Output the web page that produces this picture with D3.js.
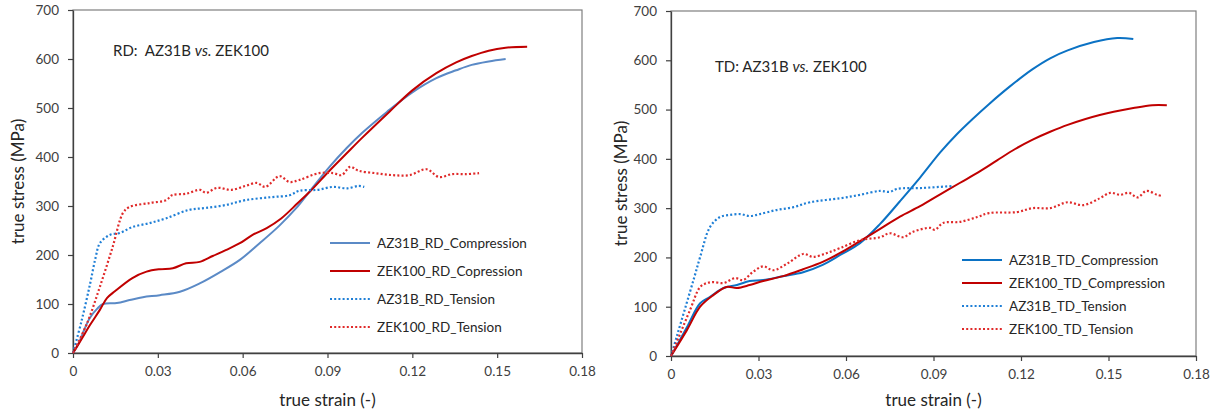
<!DOCTYPE html>
<html><head><meta charset="utf-8">
<script src="https://cdn.jsdelivr.net/npm/d3@7"></script>
<style>
body{margin:0;background:#fff;}
svg{display:block;font-family:Lato,"Open Sans",sans-serif;}
text{white-space:pre;}
</style></head>
<body><svg id="c" width="1217" height="414"></svg>
<script>
// ---------- DATA (strain, stress MPa) ----------
const xTicks = [0, 0.03, 0.06, 0.09, 0.12, 0.15, 0.18];
const yTicks = [0, 100, 200, 300, 400, 500, 600, 700];

const rdAzComp = [[0,0],[0.002,20],[0.004,48],[0.006,72],[0.0085,90],[0.0106,100],[0.0155,102],[0.02,108],[0.0247,114],[0.0307,118],[0.0378,125],[0.0448,142],[0.052,165],[0.059,190],[0.066,224],[0.073,260],[0.079,296],[0.0837,330],[0.0907,380],[0.0967,418],[0.1024,450],[0.111,492],[0.120,532],[0.1285,561],[0.1355,577],[0.141,588],[0.147,595],[0.153,600]];
const rdZekComp = [[0,0],[0.003,28],[0.006,57],[0.0095,88],[0.012,112],[0.0148,126],[0.021,153],[0.026,166],[0.0307,171],[0.0353,173],[0.040,183],[0.0448,186],[0.0494,198],[0.054,210],[0.059,224],[0.0635,241],[0.0685,255],[0.0735,274],[0.0795,306],[0.0837,329],[0.0907,372],[0.0967,407],[0.1024,440],[0.112,493],[0.120,536],[0.1285,571],[0.1355,593],[0.141,606],[0.147,617],[0.153,623],[0.1606,625]];
const rdAzTens = [[0,0],[0.003,65],[0.006,140],[0.008,195],[0.0095,224],[0.013,241],[0.0166,245],[0.021,257],[0.027,265],[0.033,275],[0.041,292],[0.047,296],[0.054,302],[0.061,312],[0.07,318],[0.0766,322],[0.080,331],[0.0865,333],[0.092,339],[0.097,336],[0.101,341],[0.103,339]];
const rdZekTens = [[0,0],[0.005,61],[0.0095,135],[0.014,216],[0.0177,286],[0.020,298],[0.027,306],[0.033,312],[0.035,322],[0.040,325],[0.045,333],[0.047,327],[0.051,337],[0.056,333],[0.061,341],[0.065,347],[0.068,339],[0.073,361],[0.0766,349],[0.080,353],[0.087,367],[0.092,367],[0.095,363],[0.098,380],[0.101,372],[0.107,367],[0.113,363],[0.119,363],[0.125,375],[0.1295,359],[0.134,365],[0.139,365],[0.1436,367]];

const tdAzComp = [[0,0],[0.0055,59],[0.010,107],[0.0134,120],[0.018,138],[0.0226,144],[0.027,152],[0.0316,154],[0.0384,162],[0.0453,170],[0.052,185],[0.058,205],[0.0648,229],[0.0717,268],[0.0785,314],[0.0854,362],[0.0923,413],[0.098,450],[0.1036,482],[0.109,511],[0.116,546],[0.124,582],[0.130,604],[0.136,620],[0.145,637],[0.153,645],[0.1585,643]];
const tdZekComp = [[0,0],[0.0055,53],[0.010,100],[0.0144,123],[0.019,140],[0.0226,138],[0.027,144],[0.0316,152],[0.0384,162],[0.0453,176],[0.052,191],[0.058,209],[0.0648,233],[0.0717,258],[0.0785,283],[0.0854,304],[0.0923,328],[0.099,351],[0.106,375],[0.1118,397],[0.118,420],[0.124,439],[0.130,455],[0.136,469],[0.147,489],[0.1585,503],[0.165,509],[0.170,509]];
const tdAzTens = [[0,0],[0.002,40],[0.005,100],[0.008,160],[0.010,201],[0.0134,262],[0.0168,282],[0.020,286],[0.0237,288],[0.027,284],[0.0305,288],[0.036,296],[0.042,302],[0.0477,312],[0.058,320],[0.0648,327],[0.0717,335],[0.075,333],[0.0775,339],[0.0864,341],[0.0967,345]];
const tdZekTens = [[0,0],[0.0065,93],[0.010,140],[0.0123,148],[0.0144,150],[0.018,148],[0.022,158],[0.0247,154],[0.028,170],[0.0316,182],[0.035,174],[0.040,188],[0.0453,207],[0.0487,201],[0.0535,209],[0.058,219],[0.0648,235],[0.0717,241],[0.075,249],[0.0796,241],[0.083,252],[0.0888,260],[0.0905,256],[0.0933,270],[0.099,272],[0.105,282],[0.109,290],[0.1186,292],[0.124,300],[0.130,300],[0.136,312],[0.1413,306],[0.147,320],[0.1506,331],[0.154,327],[0.157,331],[0.160,322],[0.163,335],[0.1667,327],[0.168,325]];

const rdNames = ["AZ31B_RD_Compression","ZEK100_RD_Copression","AZ31B_RD_Tension","ZEK100_RD_Tension"];
const tdNames = ["AZ31B_TD_Compression","ZEK100_TD_Compression","AZ31B_TD_Tension","ZEK100_TD_Tension"];

// ---------- DRAW ----------
const svg = d3.select("#c");
function panel(cfg){
  const x = d3.scaleLinear().domain([0,0.18]).range([cfg.x0,cfg.x1]);
  const y = d3.scaleLinear().domain([0,700]).range([cfg.y0,cfg.y1]);
  const g = svg.append("g");
  g.append("rect").attr("x",cfg.x0).attr("y",cfg.y1).attr("width",cfg.x1-cfg.x0).attr("height",cfg.y0-cfg.y1)
    .attr("fill","none").attr("stroke","#7f7f7f").attr("stroke-width",1.2);
  const xa = g.append("g").attr("transform",`translate(0,${cfg.y0})`)
    .call(d3.axisBottom(x).tickValues(xTicks).tickFormat(d=>d===0?"0":d3.format(".2f")(d)).tickSize(5).tickSizeOuter(0).tickPadding(8));
  const ya = g.append("g").attr("transform",`translate(${cfg.x0},0)`)
    .call(d3.axisLeft(y).tickValues(yTicks).tickSize(5).tickSizeOuter(0).tickPadding(9));
  [xa,ya].forEach(a=>{
    a.select(".domain").attr("stroke","#404040").attr("stroke-width",1.3);
    a.selectAll(".tick line").attr("stroke","#404040").attr("stroke-width",1.2);
    a.selectAll(".tick text").attr("fill","#404040").style("font-size","13.5px").style("font-family","Lato,sans-serif");
  });
  g.append("text").attr("x",(cfg.x0+cfg.x1)/2).attr("y",406).attr("text-anchor","middle")
    .attr("fill","#262626").style("font-size","17px").text("true strain (-)");
  g.append("text").attr("transform",`translate(${cfg.ytx},${(cfg.y0+cfg.y1)/2}) rotate(-90)`).attr("text-anchor","middle")
    .attr("fill","#262626").style("font-size","17px").text("true stress (MPa)");
  const t = g.append("text").attr("x",cfg.annX).attr("y",cfg.annY).attr("fill","#262626").style("font-size","15px");
  t.append("tspan").text(cfg.annPre);
  t.append("tspan").style("font-style","italic").text("vs.");
  t.append("tspan").text(" ZEK100");
  const line = d3.line().x(d=>x(d[0])).y(d=>y(d[1])).curve(d3.curveCatmullRom.alpha(0.5));
  cfg.series.forEach(s=>{
    g.append("path").datum(s.data).attr("fill","none").attr("stroke",s.color)
      .attr("stroke-width",s.dash?2.2:2).attr("stroke-dasharray",s.dash?"2,2.2":null)
      .attr("stroke-linejoin","round").attr("d",line);
  });
  cfg.series.forEach((s,i)=>{
    const ly = cfg.legY[i];
    g.append("line").attr("x1",cfg.legX).attr("x2",cfg.legX+40).attr("y1",ly).attr("y2",ly)
      .attr("stroke",s.color).attr("stroke-width",s.dash?2.2:2).attr("stroke-dasharray",s.dash?"2,2.2":null);
    g.append("text").attr("x",cfg.legX+47).attr("y",ly+5).attr("fill","#262626").style("font-size","13.5px").text(s.name);
  });
}

panel({x0:73,x1:582,y0:353,y1:10,ytx:24,annX:113,annY:56,annPre:"RD:  AZ31B ",
  legX:330,legY:[243,271,299,327],
  series:[
    {data:rdAzComp,color:"#5b8ac6",dash:false,name:rdNames[0]},
    {data:rdZekComp,color:"#c00000",dash:false,name:rdNames[1]},
    {data:rdAzTens,color:"#1f7fd6",dash:true,name:rdNames[2]},
    {data:rdZekTens,color:"#e02a2a",dash:true,name:rdNames[3]}
  ]});
panel({x0:671,x1:1196,y0:356,y1:11,ytx:627,annX:715,annY:72,annPre:"TD: AZ31B ",
  legX:962,legY:[260,283,306,329],
  series:[
    {data:tdAzComp,color:"#0b72c4",dash:false,name:tdNames[0]},
    {data:tdZekComp,color:"#c00000",dash:false,name:tdNames[1]},
    {data:tdAzTens,color:"#1f7fd6",dash:true,name:tdNames[2]},
    {data:tdZekTens,color:"#e02a2a",dash:true,name:tdNames[3]}
  ]});
</script></body></html>
